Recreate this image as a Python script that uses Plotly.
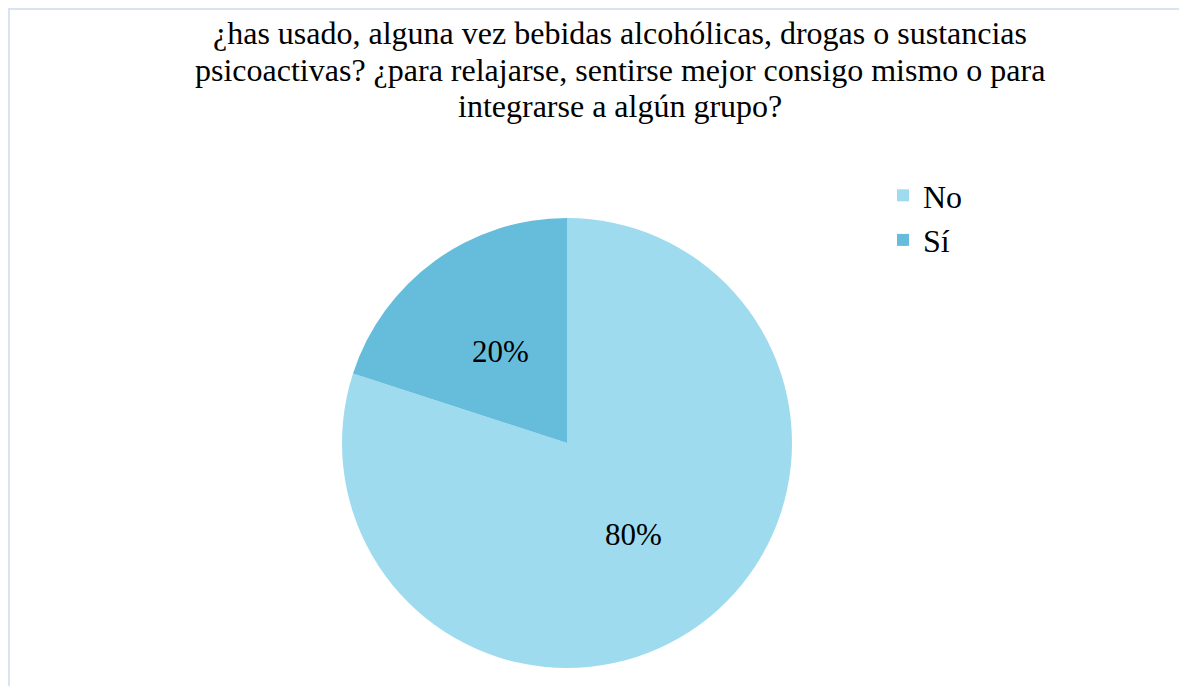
import math
import plotly.graph_objects as go

labels = ["No", "Sí"]
values = [80, 20]
colors = ["#9FDBEE", "#66BDDB"]
title_lines = [
    "¿has usado, alguna vez bebidas alcohólicas, drogas o sustancias",
    "psicoactivas? ¿para relajarse, sentirse mejor consigo mismo o para",
    "integrarse a algún grupo?",
]

W, H = 1171, 678
OFF = 8  # page body margin
FONT = "Liberation Serif, Times New Roman, serif"
FS = 32


def px(x):
    return (x - OFF) / W


def py(y):
    return 1 - (y - OFF) / H


# pie geometry (page pixels)
CX, CY, R = 567, 443, 225

fig = go.Figure(go.Pie(
    labels=labels,
    values=values,
    sort=False,
    direction="clockwise",
    rotation=0,
    marker=dict(colors=colors, line=dict(width=0)),
    textinfo="none",
    domain=dict(x=[px(CX - R), px(CX + R)], y=[py(CY + R), py(CY - R)]),
    hoverinfo="label+percent",
))

baselines = [43, 80, 116]
annotations = [
    dict(text=t, xref="paper", yref="paper", x=px(620), y=py(b - 10),
         xanchor="center", yanchor="middle", showarrow=False,
         font=dict(family=FONT, size=FS, color="black"))
    for t, b in zip(title_lines, baselines)
]

# percentage labels placed at the middle angle of each slice (derived from values)
total = sum(values)
cum = 0
for v in values:
    mid = (cum + v / 2) / total * 2 * math.pi  # clockwise from 12 o'clock
    cum += v
    lx = CX + 0.505 * R * math.sin(mid)
    ly = CY - 0.505 * R * math.cos(mid)
    annotations.append(dict(
        text=f"{round(v / total * 100)}%", xref="paper", yref="paper",
        x=px(lx), y=py(ly), xanchor="center", yanchor="middle", showarrow=False,
        font=dict(family=FONT, size=31, color="black")))

fig.update_layout(
    width=W, height=H,
    margin=dict(l=0, r=0, t=0, b=0),
    paper_bgcolor="white",
    plot_bgcolor="white",
    annotations=annotations,
    legend=dict(x=px(883), y=py(168), xanchor="left", yanchor="top",
                font=dict(family=FONT, size=FS, color="black"),
                bgcolor="rgba(0,0,0,0)", tracegroupgap=0),
    shapes=[
        dict(type="line", xref="paper", yref="paper", x0=0, x1=1.0, y0=1 - 1 / H, y1=1 - 1 / H,
             line=dict(color="#D6E4F4", width=2)),
        dict(type="line", xref="paper", yref="paper", x0=1 / W, x1=1 / W, y0=0, y1=1,
             line=dict(color="#D6E4F4", width=2)),
    ],
)

fig.write_html("out.html")
